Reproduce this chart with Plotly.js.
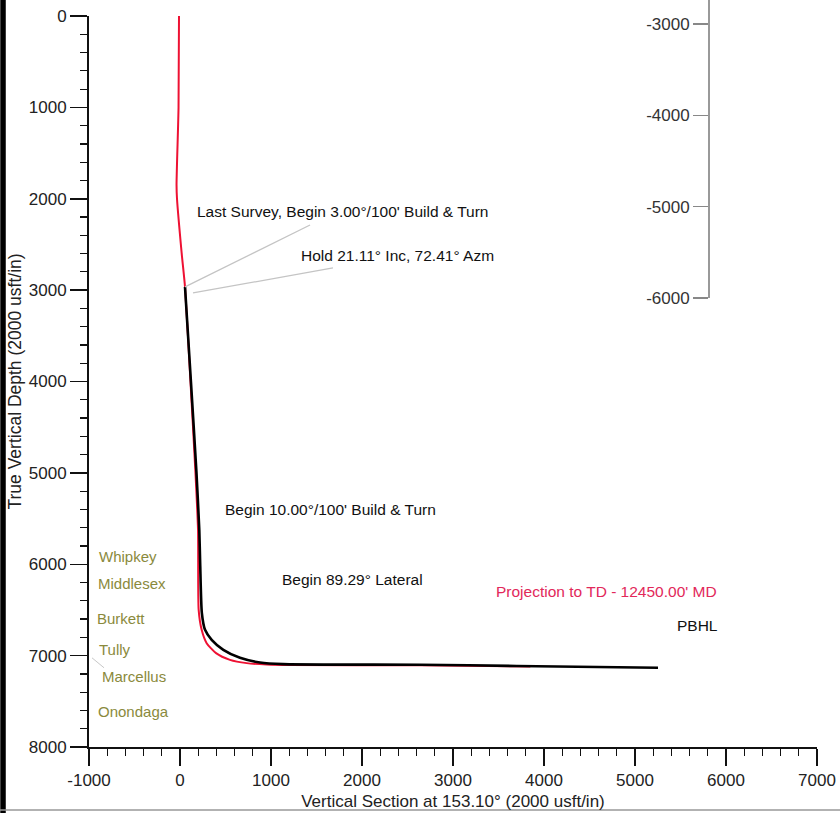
<!DOCTYPE html>
<html>
<head>
<meta charset="utf-8">
<script src="https://cdn.plot.ly/plotly-3.0.1.min.js"></script>
<style>html,body{margin:0;padding:0;background:#fff;}#chart{width:840px;height:813px;}</style>
</head>
<body>
<div id="chart"></div>
<script>
// Plan trajectory (red): vertical section (usft) vs TVD (usft)
const planVS  = [-11, -16, -38, -33, 18, 55, 115, 170, 198, 205, 238, 293, 396, 549, 733, 953, 1200, 2637, 3850];
const planTVD = [0, 1000, 1850, 2000, 2593, 2965, 4000, 5000, 5624, 6500, 6718, 6864, 6973, 7046, 7082, 7097, 7103, 7106, 7118];

// Survey / projection trajectory (black)
const wellVS  = [55, 120, 181, 212, 222, 240, 275, 348, 476, 659, 879, 1132, 2637, 3700, 5253];
const wellTVD = [2965, 4000, 5000, 5624, 6000, 6532, 6718, 6827, 6937, 7024, 7075, 7093, 7100, 7113, 7133];

// Formation labels
const formationNames = ["Whipkey", "Middlesex", "Burkett", "Tully", "Marcellus", "Onondaga"];
const formationTVD   = [5919, 6214, 6597, 6937, 7232, 7615];
const formationVS    = [-912, -923, -933, -912, -879, -923];

// Annotation labels
const noteText = ["Last Survey, Begin 3.00°/100' Build & Turn", "Hold 21.11° Inc, 72.41° Azm",
                  "Begin 10.00°/100' Build & Turn", "Begin 89.29° Lateral",
                  "Projection to TD - 12450.00' MD", "PBHL"];
const noteVS   = [1791, 2385, 1659, 1901, 4692, 5692];
const noteTVD  = [2144, 2626, 5405, 6171, 6302, 6674];
const noteColor = ["#111", "#111", "#111", "#111", "#e2285a", "#111"];

// Tick labels (hyphen minus as in the original)
const xTickVals = [-1000, 0, 1000, 2000, 3000, 4000, 5000, 6000, 7000];
const xTickText = ["-1000", "0", "1000", "2000", "3000", "4000", "5000", "6000", "7000"];
const yTickVals = [0, 1000, 2000, 3000, 4000, 5000, 6000, 7000, 8000];
const yTickText = ["0", "1000", "2000", "3000", "4000", "5000", "6000", "7000", "8000"];
const rightTickVals = [-3000, -4000, -5000, -6000];
const rightTickText = ["-3000", "-4000", "-5000", "-6000"];

const FONT = "Liberation Sans, Arial, sans-serif";

const traces = [
  {x: planVS, y: planTVD, mode: "lines", line: {color: "#ee1133", width: 2, shape: "spline", smoothing: 0.6}, showlegend: false, hoverinfo: "skip"},
  {x: wellVS, y: wellTVD, mode: "lines", line: {color: "#000", width: 2.6, shape: "spline", smoothing: 0.6}, showlegend: false, hoverinfo: "skip"},
  {x: [null], y: [null], yaxis: "y2", mode: "lines", showlegend: false, hoverinfo: "skip"}
];

const annotations = [];
for (let i = 0; i < noteText.length; i++) {
  annotations.push({x: noteVS[i], y: noteTVD[i], xref: "x", yref: "y", text: noteText[i], showarrow: false,
    font: {family: FONT, size: 15.5, color: noteColor[i]}});
}
for (let i = 0; i < formationNames.length; i++) {
  annotations.push({x: formationVS[i], y: formationTVD[i], xref: "x", yref: "y", text: formationNames[i], showarrow: false,
    xanchor: "left", font: {family: FONT, size: 15, color: "#8a8a3c"}});
}

const shapes = [
  // left frame bar
  {type: "line", xref: "paper", yref: "paper", x0: -0.1181, x1: -0.1181, y0: -0.1, y1: 1.01, line: {color: "#000", width: 5.5}},
  // bottom frame line
  {type: "line", xref: "paper", yref: "paper", x0: -0.125, x1: 1.04, y0: -0.0843, y1: -0.0843, line: {color: "#999", width: 1.5}},
  // leader lines
  {type: "line", xref: "x", yref: "y", x0: 55, y0: 2965, x1: 1429, y1: 2287, line: {color: "#c4c4c4", width: 1.3}},
  {type: "line", xref: "x", yref: "y", x0: 143, y0: 3031, x1: 1681, y1: 2757, line: {color: "#c4c4c4", width: 1.3}},
  {type: "line", xref: "x", yref: "y", x0: -967, y0: 7024, x1: -835, y1: 7133, line: {color: "#c8c8c8", width: 1}}
];

const axisCommon = {
  ticks: "outside", ticklen: 17, tickwidth: 1.5, tickcolor: "#111",
  showline: true, linewidth: 2, linecolor: "#111", showgrid: false, zeroline: false,
  tickfont: {family: FONT, size: 17, color: "#222"},
  minor: {dtick: 200, ticks: "outside", ticklen: 7, tickwidth: 1.2, tickcolor: "#111", showgrid: false}
};

const layout = {
  width: 840, height: 813,
  margin: {l: 89, r: 23, t: 0, b: 66},
  paper_bgcolor: "#fff", plot_bgcolor: "rgba(0,0,0,0)",
  font: {family: FONT, color: "#222"},
  showlegend: false,
  xaxis: Object.assign({}, axisCommon, {
    range: [-1000, 7000], tickmode: "array", tickvals: xTickVals, ticktext: xTickText, anchor: "y",
    title: {text: "Vertical Section at 153.10° (2000 usft/in)", font: {family: FONT, size: 17, color: "#222"}, standoff: 6}
  }),
  yaxis: Object.assign({}, axisCommon, {
    range: [8000, 0], domain: [0, 0.97858], tickmode: "array", tickvals: yTickVals, ticktext: yTickText, anchor: "x",
    title: {text: "True Vertical Depth (2000 usft/in)", font: {family: FONT, size: 17.5, color: "#222"}, standoff: 3}
  }),
  yaxis2: {
    range: [-6000, -2737], domain: [0.6011, 1], anchor: "free", position: 0.8503, side: "left",
    tickmode: "array", tickvals: rightTickVals, ticktext: rightTickText, ticks: "outside", ticklen: 15, tickwidth: 1.2, tickcolor: "#888",
    showline: true, linewidth: 1.5, linecolor: "#999", showgrid: false, zeroline: false,
    tickfont: {family: FONT, size: 17, color: "#333"}
  },
  annotations: annotations,
  shapes: shapes
};

Plotly.newPlot("chart", traces, layout, {staticPlot: true, displayModeBar: false});
</script>
</body>
</html>
